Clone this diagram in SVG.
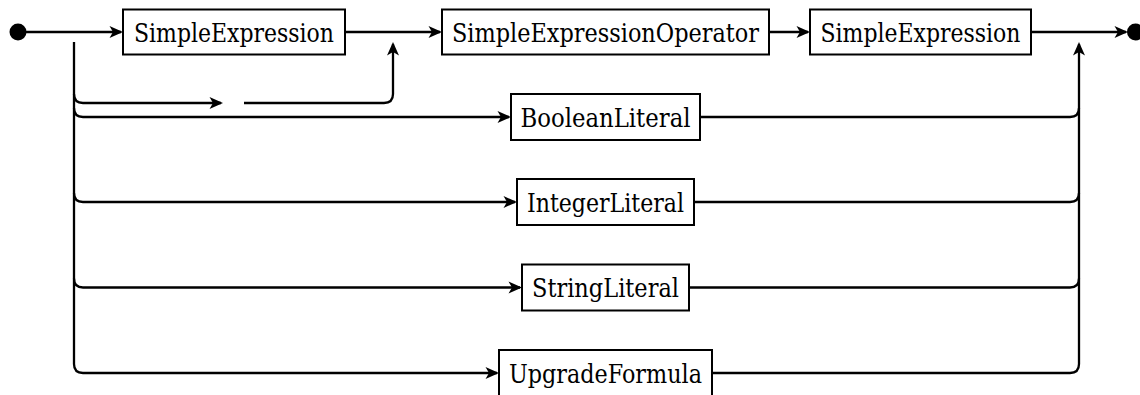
<svg xmlns="http://www.w3.org/2000/svg" width="1140" height="395" viewBox="0 0 1140 395">
  <style>
    .box { fill: #ffffff; stroke: #000000; stroke-width: 2; }
    .lbl { font-family: 'DejaVu Serif Condensed', 'DejaVu Serif', serif; font-stretch: condensed; font-size: 26.5px; fill: #000000; text-anchor: middle; }
    .wire { fill: none; stroke: #000000; stroke-width: 2.3; }
    .dot { fill: #000000; }
  </style>
  <defs>
    <marker id="arrow" viewBox="-14 -8 18 16" refX="0" refY="0" markerWidth="18" markerHeight="16" markerUnits="userSpaceOnUse" orient="auto">
      <path d="M2,0 L-11.5,-6 L-8,0 L-11.5,6 Z" fill="#000000"/>
    </marker>
  </defs>

  <!-- terminals -->
  <circle class="dot" cx="18" cy="32" r="8.5"/>
  <circle class="dot" cx="1135.5" cy="32" r="8.5"/>

  <!-- connectors -->
  <g id="connectors">
    <path class="wire" d="M18,32 H121" marker-end="url(#arrow)"/>
    <path class="wire" d="M345,32 H440" marker-end="url(#arrow)"/>
    <path class="wire" d="M769,32 H808" marker-end="url(#arrow)"/>
    <path class="wire" d="M1031,32 H1126" marker-end="url(#arrow)"/>

    <!-- left spine down to the last alternative -->
    <path class="wire" d="M74,42 V364 Q74,373 83,373 H497" marker-end="url(#arrow)"/>
    <!-- empty alternative skipping the first operand -->
    <path class="wire" d="M74,94 Q74,103 83,103 H221" marker-end="url(#arrow)"/>
    <path class="wire" d="M244,103 H384 Q393,103 393,94 V44" marker-end="url(#arrow)"/>
    <!-- alternatives in -->
    <path class="wire" d="M74,108 Q74,117 83,117 H509" marker-end="url(#arrow)"/>
    <path class="wire" d="M74,193 Q74,202 83,202 H515" marker-end="url(#arrow)"/>
    <path class="wire" d="M74,278.5 Q74,287.5 83,287.5 H520" marker-end="url(#arrow)"/>
    <!-- alternatives out -->
    <path class="wire" d="M700,117 H1070 Q1079,117 1079,108"/>
    <path class="wire" d="M694,202 H1070 Q1079,202 1079,193"/>
    <path class="wire" d="M689,287.5 H1070 Q1079,287.5 1079,278.5"/>
    <path class="wire" d="M712,373 H1070 Q1079,373 1079,364 V44" marker-end="url(#arrow)"/>
  </g>

  <g id="simple-expression-1">
    <rect class="box" x="123" y="9.5" width="222" height="45"/>
    <text class="lbl" x="234" y="41.5" textLength="200" lengthAdjust="spacingAndGlyphs">SimpleExpression</text>
  </g>
  <g id="simple-expression-operator">
    <rect class="box" x="442" y="9.5" width="327" height="45"/>
    <text class="lbl" x="605.5" y="41.5" textLength="307" lengthAdjust="spacingAndGlyphs">SimpleExpressionOperator</text>
  </g>
  <g id="simple-expression-2">
    <rect class="box" x="810" y="9.5" width="221" height="45"/>
    <text class="lbl" x="920.5" y="41.5" textLength="200" lengthAdjust="spacingAndGlyphs">SimpleExpression</text>
  </g>
  <g id="boolean-literal">
    <rect class="box" x="511" y="94" width="189" height="46"/>
    <text class="lbl" x="605.5" y="126.5" textLength="170" lengthAdjust="spacingAndGlyphs">BooleanLiteral</text>
  </g>
  <g id="integer-literal">
    <rect class="box" x="517" y="179" width="177" height="46"/>
    <text class="lbl" x="605.5" y="211.5" textLength="157" lengthAdjust="spacingAndGlyphs">IntegerLiteral</text>
  </g>
  <g id="string-literal">
    <rect class="box" x="522" y="264.5" width="167" height="46"/>
    <text class="lbl" x="605.5" y="297" textLength="147" lengthAdjust="spacingAndGlyphs">StringLiteral</text>
  </g>
  <g id="upgrade-formula">
    <rect class="box" x="499" y="350" width="213" height="46"/>
    <text class="lbl" x="605.5" y="382.5" textLength="193" lengthAdjust="spacingAndGlyphs">UpgradeFormula</text>
  </g>
</svg>
